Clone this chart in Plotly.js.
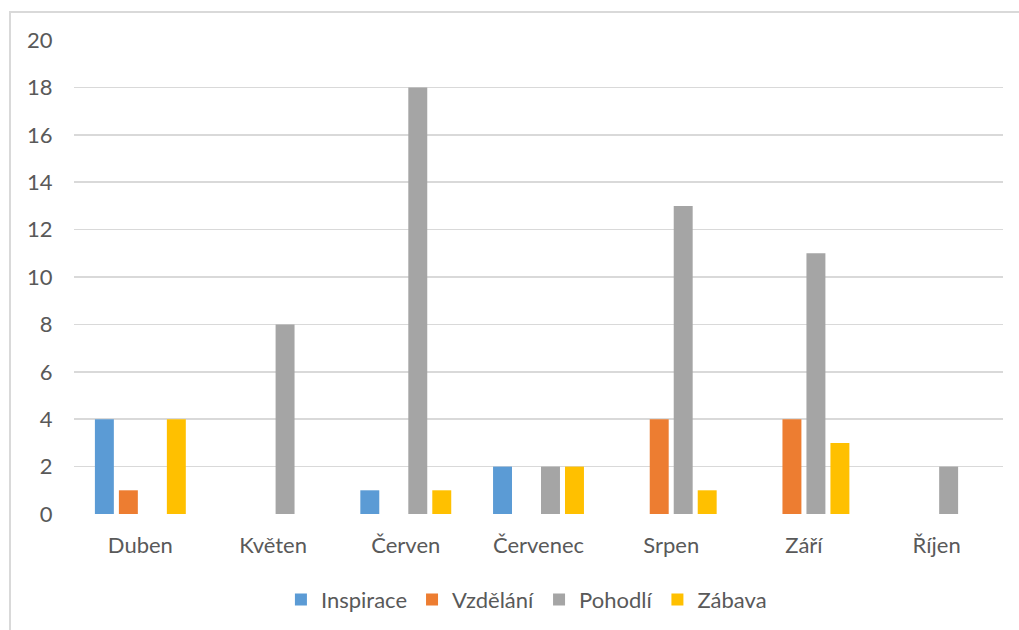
<!DOCTYPE html>
<html>
<head>
<meta charset="utf-8">
<script src="https://cdn.plot.ly/plotly-3.0.1.min.js"></script>
<style>
html,body{margin:0;padding:0;background:#fff;}
#wrap{position:relative;width:1019px;height:630px;}
#chart{width:1019px;height:630px;}
#frame{position:absolute;left:9px;top:11px;width:1020px;height:630px;border-left:2px solid #d9d9d9;border-top:2px solid #d9d9d9;pointer-events:none;}
</style>
</head>
<body>
<div id="wrap"><div id="chart"></div><div id="frame"></div></div>
<script>
const months = ["Duben", "Květen", "Červen", "Červenec", "Srpen", "Září", "Říjen"];
const inspirace = [4, 0, 1, 2, 0, 0, 0];
const vzdelani = [1, 0, 0, 0, 4, 4, 0];
const pohodli = [0, 8, 18, 2, 13, 11, 2];
const zabava = [4, 0, 1, 2, 1, 3, 0];
const yTicks = [0, 2, 4, 6, 8, 10, 12, 14, 16, 18, 20];

const fontFam = "Lato, 'Open Sans', sans-serif";
const txtColor = "#595959";

const series = [
  {name: "Inspirace", y: inspirace, color: "#5B9BD5"},
  {name: "Vzdělání", y: vzdelani, color: "#ED7D31"},
  {name: "Pohodlí", y: pohodli, color: "#A5A5A5"},
  {name: "Zábava", y: zabava, color: "#FFC000"}
];

const traces = series.map(s => ({
  type: "bar",
  name: s.name,
  x: months,
  y: s.y,
  marker: {color: s.color},
  hoverinfo: "x+y+name"
}));

const layout = {
  width: 1019,
  height: 630,
  margin: {l: 74, r: 16, t: 40, b: 116, autoexpand: false},
  paper_bgcolor: "#ffffff",
  plot_bgcolor: "#ffffff",
  barmode: "group",
  bargap: 0.277,
  bargroupgap: 0.21,
  font: {family: fontFam, size: 22, color: txtColor},
  xaxis: {
    type: "category",
    showgrid: false,
    zeroline: false,
    showline: false,
    ticks: "outside",
    ticklen: 12,
    tickcolor: "rgba(0,0,0,0)",
    automargin: false,
    tickfont: {family: fontFam, size: 22, color: txtColor}
  },
  yaxis: {
    range: [0, 20],
    tickvals: yTicks,
    ticktext: yTicks.map(String),
    showgrid: true,
    gridcolor: "#d9d9d9",
    gridwidth: 1.5,
    zeroline: false,
    showline: false,
    ticks: "outside",
    ticklen: 16,
    tickcolor: "rgba(0,0,0,0)",
    automargin: false,
    tickfont: {family: fontFam, size: 22, color: txtColor}
  },
  showlegend: true,
  legend: {
    orientation: "h",
    x: 0.487,
    xanchor: "center",
    yref: "container",
    y: 0.0815,
    yanchor: "top",
    font: {family: fontFam, size: 22, color: txtColor},
    itemwidth: 30,
    traceorder: "normal"
  }
};

Plotly.newPlot("chart", traces, layout, {displayModeBar: false, staticPlot: true});
</script>
</body>
</html>
